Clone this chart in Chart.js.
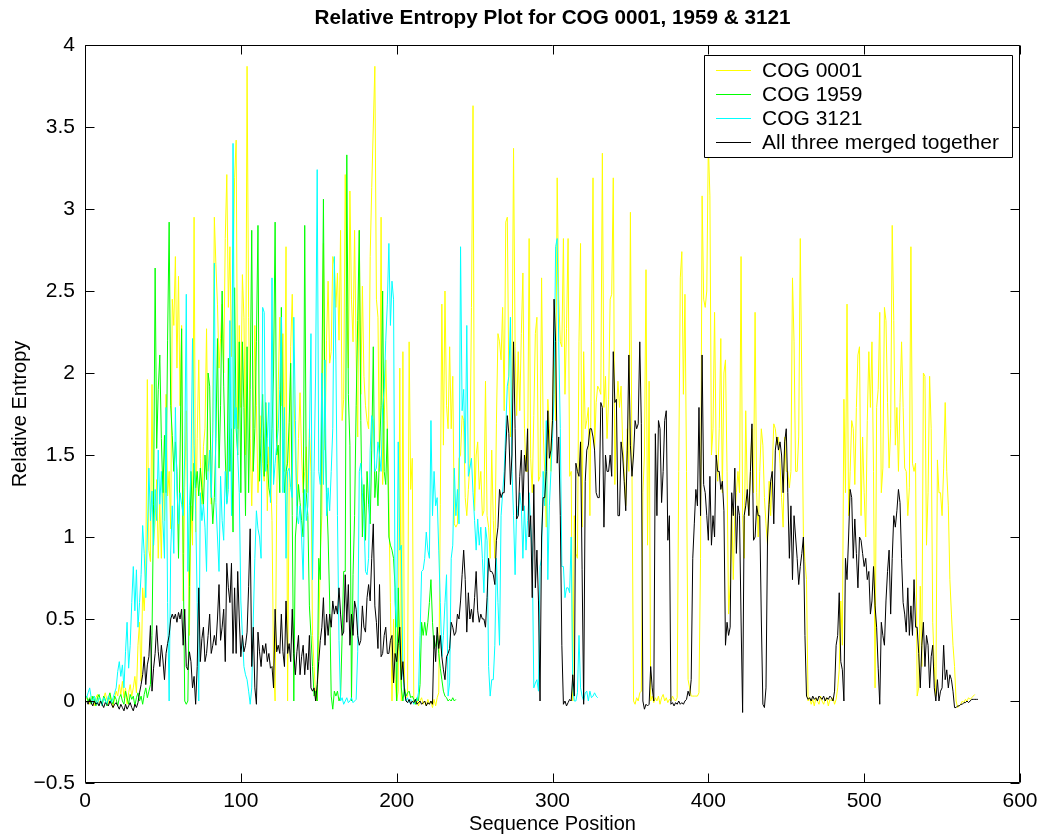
<!DOCTYPE html>
<html><head><meta charset="utf-8">
<script src="https://cdn.jsdelivr.net/npm/chart.js@4.4.1/dist/chart.umd.min.js"></script>
<style>html,body{margin:0;padding:0;background:#fff}#wrap{width:1037px;height:836px}</style>
</head><body><div id="wrap"><canvas id="c" width="1037" height="836"></canvas></div>
<script>
const chartTitle = 'Relative Entropy Plot for COG 0001, 1959 & 3121';
const xAxisLabel = 'Sequence Position';
const yAxisLabel = 'Relative Entropy';
const seriesNames = ['COG 0001', 'COG 1959', 'COG 3121', 'All three merged together'];
const seriesColors = ['#ffff00', '#00ff00', '#00ffff', '#000000'];
const xTicks = [0, 100, 200, 300, 400, 500, 600];
const yTicks = [-0.5, 0, 0.5, 1, 1.5, 2, 2.5, 3, 3.5, 4];

// first sequence position of every series
const cog0001Start = 1, cog1959Start = 1, cog3121Start = 1, mergedStart = 1;

// COG 0001 (positions 1..571)
const cog0001 = [
0.02,0.00,-0.02,0.03,0.01,-0.03,0.02,0.04,-0.01,0.00,
-0.03,0.02,0.05,0.01,-0.02,0.03,0.00,-0.04,0.02,0.06,
0.03,0.10,0.04,0.12,0.02,0.08,-0.02,0.05,0.10,0.03,
0.08,0.15,0.05,0.34,0.48,0.12,0.69,0.55,0.80,1.96,
0.92,0.85,1.93,0.95,1.10,1.35,0.87,
1.20,0.87,1.40,1.10,1.87,1.25,1.40,1.05,2.45,2.29,
2.71,2.03,2.59,1.80,2.29,0.61,1.30,1.77,1.10,0.40,
1.19,0.95,2.95,1.03,1.60,2.08,1.48,1.20,1.55,1.66,
2.27,1.40,1.50,1.20,1.70,2.95,2.66,2.42,2.03,2.21,
2.42,2.00,2.82,3.21,2.40,2.77,2.10,2.60,3.19,
3.42,1.66,2.29,1.79,2.60,2.34,1.50,3.87,2.34,1.60,
1.19,1.66,2.29,1.80,1.27,1.50,1.74,1.45,1.34,1.70,
1.16,1.55,1.40,1.10,0.21,0.00,1.20,1.92,2.34,1.80,
2.24,1.40,2.77,0.00,1.30,2.16,2.48,1.92,1.50,1.19,
1.60,1.88,1.50,1.27,1.40,1.55,1.27,1.66,1.40,
0.40,0.21,0.03,0.00,0.40,0.90,1.13,2.79,1.53,2.20,
2.56,2.06,2.13,2.71,2.66,2.40,2.61,2.20,2.87,1.71,
1.84,3.21,2.40,2.03,3.11,2.45,2.19,2.87,2.11,1.61,
2.87,1.87,2.53,1.98,1.80,1.71,1.66,2.71,3.13,3.50,
3.87,2.45,2.34,1.40,2.95,1.32,1.71,2.08,1.66,
1.21,0.60,0.00,0.50,0.13,0.00,0.06,2.03,0.00,2.13,
0.08,0.02,0.03,2.19,1.29,1.48,0.00,-0.02,0.01,-0.03,
0.00,0.02,-0.02,0.00,-0.03,0.01,-0.02,0.00,-0.04,0.01,
-0.03,0.02,0.05,1.20,2.42,1.56,2.50,1.80,1.66,2.16,
1.66,1.98,1.08,1.06,1.08,1.48,1.50,1.74,
1.71,1.24,1.13,1.29,1.45,2.40,3.63,1.16,1.50,1.58,
1.29,1.40,1.13,1.16,1.95,1.13,1.06,0.87,1.53,1.10,
0.87,1.69,2.24,2.19,2.08,2.40,1.77,2.92,2.95,1.92,
1.61,1.92,3.37,2.16,1.74,2.13,1.77,2.24,2.61,1.66,
1.40,1.40,2.82,1.48,1.27,1.74,2.24,2.34,1.34,
1.37,2.58,1.66,1.40,1.06,1.84,1.66,1.40,1.80,2.19,
1.71,3.19,2.45,2.19,2.16,2.82,1.87,2.27,2.82,1.37,
1.40,0.00,1.13,0.90,0.87,2.19,2.79,1.06,2.13,1.66,
1.71,1.79,1.13,2.19,3.19,1.53,1.82,1.92,1.90,1.87,
3.34,1.79,1.98,1.60,1.84,2.45,2.48,3.19,1.32,
1.77,1.95,1.79,1.92,1.58,1.40,1.19,1.66,1.40,2.98,
1.40,0.00,-0.02,0.02,0.00,0.05,0.06,1.27,1.50,2.63,
0.95,1.95,0.00,0.03,-0.01,0.02,0.00,0.03,-0.02,0.02,
0.04,0.00,0.02,-0.01,0.01,0.00,0.03,0.01,0.00,0.02,
1.40,2.58,2.74,1.87,2.48,1.40,0.13,0.08,0.03,
0.03,0.03,0.03,0.03,0.05,0.87,3.08,2.45,2.40,2.50,
3.40,3.08,1.50,1.66,2.37,1.53,1.34,1.66,2.21,1.27,
2.00,2.08,1.40,0.53,0.71,1.19,0.74,1.13,1.27,1.40,
1.27,2.71,1.13,0.87,1.77,1.27,1.13,1.40,1.66,1.27,
2.37,1.27,1.00,1.40,1.66,1.56,1.24,1.08,
0.95,1.34,1.13,1.40,1.69,1.66,1.56,1.61,1.45,1.24,
1.06,1.61,1.40,1.40,1.30,1.40,2.58,2.19,1.40,1.40,
1.61,2.82,1.92,1.00,0.85,0.74,0.00,0.02,-0.02,0.01,
-0.03,0.02,0.00,-0.02,0.03,0.00,-0.02,0.01,0.02,-0.03,
0.01,0.00,0.02,-0.02,0.01,0.08,0.19,0.61,0.34,
1.84,1.27,2.42,1.13,1.40,1.71,1.66,1.32,1.79,2.11,
2.16,1.13,1.61,1.27,1.00,1.71,2.13,1.79,2.19,1.40,
0.08,1.79,1.90,2.37,1.27,1.42,2.40,2.32,1.82,1.42,
1.66,2.90,2.32,1.56,1.79,1.40,1.82,2.19,1.79,1.42,
1.40,1.13,1.30,2.77,1.45,1.40,1.45,0.03,0.08,
0.70,0.21,2.00,1.98,0.95,1.27,1.98,1.66,0.48,0.21,
0.03,1.47,1.27,1.27,1.13,1.42,1.82,1.40,1.19,0.74,
0.53,0.34,0.21,0.00,-0.04,-0.03,-0.02,0.00,-0.01,0.01,
0.00,0.02,0.01,0.02,0.03,0.04
];

// COG 1959 (positions 1..238)
const cog1959 = [
0.03,0.00,0.02,-0.02,0.03,0.01,-0.03,0.02,0.04,0.00,
-0.02,0.03,0.01,-0.03,0.02,0.05,0.00,-0.02,0.03,0.01,
-0.03,0.02,0.04,0.00,-0.02,0.06,0.02,-0.02,0.04,0.01,
0.03,-0.03,0.02,0.05,0.00,0.03,-0.02,0.04,0.08,0.02,
0.06,0.10,0.40,1.20,2.64,1.54,1.90,
2.11,1.60,1.27,1.62,1.27,2.20,2.92,1.80,1.62,1.40,
1.58,1.40,0.87,1.50,2.27,0.90,0.00,-0.02,0.00,0.70,
1.40,1.10,1.45,1.30,1.40,1.25,1.42,1.30,1.19,1.50,
1.35,2.00,1.92,1.30,1.08,1.24,1.60,2.21,1.42,1.80,
2.50,1.92,1.50,1.21,2.09,1.40,1.66,1.03,2.52,
1.66,1.50,2.19,1.27,2.19,1.79,1.13,2.16,1.27,1.90,
2.87,1.40,1.66,2.19,2.90,1.34,1.60,1.87,1.37,1.82,
1.45,1.30,1.24,1.66,2.00,2.92,1.50,1.56,1.27,2.40,
1.60,1.27,1.40,1.45,1.70,2.06,1.13,0.00,1.00,1.13,
1.32,1.21,1.10,1.00,2.90,1.27,1.13,0.58,0.40,
0.21,0.03,0.06,0.00,0.87,0.74,1.90,3.06,1.66,1.27,
1.00,0.61,0.03,-0.05,0.06,0.03,0.06,0.00,0.03,0.40,
0.79,0.79,3.33,1.87,1.56,0.00,0.77,1.13,1.80,2.32,
2.87,1.71,1.00,1.32,0.98,1.40,1.20,1.08,1.53,2.16,
1.24,1.40,1.19,1.53,1.80,2.50,1.40,1.32,1.66,
1.00,0.95,0.92,0.87,0.69,0.00,0.69,0.34,0.08,0.00,
0.08,0.03,0.05,0.06,0.02,0.03,0.01,-0.02,0.02,0.00,
0.10,0.48,0.40,0.48,0.40,0.48,0.60,0.74,0.48,0.32,
0.34,0.40,0.29,0.20,0.13,0.06,0.03,0.02,0.00,0.01,
0.00,0.02,0.00,0.01
];

// COG 3121 (positions 1..329)
const cog3121 = [
0.02,0.05,0.08,0.02,-0.01,0.03,0.00,-0.02,0.02,0.01,
-0.03,0.02,0.00,-0.02,0.03,0.01,-0.01,0.02,0.05,0.08,
0.18,0.24,0.15,0.22,0.08,0.30,0.48,0.20,0.34,0.60,
0.82,0.55,0.80,0.45,0.60,0.77,1.07,0.90,0.63,1.00,
1.42,1.10,1.28,0.95,1.29,1.10,1.53,
1.20,1.40,1.10,0.87,1.79,0.60,0.00,0.92,1.19,0.90,
1.79,1.30,1.08,1.27,1.20,1.13,1.50,2.48,0.79,1.19,
1.40,2.21,1.56,1.16,0.60,0.00,1.27,1.10,1.20,1.06,
0.79,1.40,1.53,1.24,1.63,2.67,1.21,1.00,0.79,1.37,
1.10,0.98,1.40,1.20,1.29,2.32,1.13,3.40,1.66,
1.79,1.50,1.27,0.61,0.40,0.21,0.16,0.13,0.06,-0.02,
0.08,0.50,0.87,1.16,1.05,1.00,0.87,2.40,2.37,1.40,
1.60,1.82,1.21,2.58,1.32,1.45,1.56,1.66,1.90,2.34,
1.27,1.79,0.87,1.40,1.42,1.30,1.24,2.34,1.71,1.13,
1.08,1.19,1.00,0.74,1.29,1.10,1.19,1.60,2.24,
0.74,1.40,2.00,3.24,1.40,1.32,2.00,1.32,2.08,1.13,
1.30,1.16,1.40,1.66,2.71,2.08,1.13,0.37,0.00,0.02,
-0.02,0.00,0.02,-0.01,0.00,0.02,-0.01,0.00,0.01,0.30,
1.40,1.45,1.27,1.13,0.79,0.77,0.87,1.53,1.74,1.71,
1.40,1.42,1.58,1.50,1.40,1.79,1.90,2.20,2.42,
2.79,2.29,2.56,2.45,0.61,0.45,1.58,0.92,0.95,0.16,
0.06,0.00,0.02,-0.01,0.01,0.00,-0.02,0.01,0.00,0.05,
0.40,0.79,0.80,0.87,1.03,0.92,0.87,1.71,1.13,1.40,
1.19,1.24,0.92,0.60,0.27,0.40,0.60,0.77,0.03,0.11,
0.87,0.95,1.42,1.13,1.29,1.08,2.77,1.77,
1.90,1.45,2.29,1.37,1.42,1.48,1.27,1.10,0.92,1.11,
0.95,1.06,0.87,0.66,1.06,0.98,0.21,0.03,0.13,0.13,
0.34,0.87,0.60,0.34,1.13,1.27,1.40,1.66,1.92,1.98,
2.34,1.40,1.13,0.77,1.19,1.13,1.27,1.19,0.87,1.19,
0.92,1.10,1.27,1.06,0.92,0.08,0.11,0.13,0.06,
0.82,0.87,1.40,1.19,1.71,0.74,1.19,1.40,1.60,1.87,
2.77,2.82,2.19,1.66,0.82,0.82,0.63,0.69,0.69,0.66,
1.00,0.08,0.00,0.00,0.05,0.40,0.08,0.03,0.00,0.05,
0.06,0.00,0.06,0.02,0.03,0.05,0.03,0.02
];

// All three merged together (positions 1..573)
const merged = [
0.00,-0.02,0.01,-0.01,-0.03,0.00,-0.02,-0.01,-0.03,0.00,
-0.02,-0.04,-0.01,-0.02,-0.03,0.00,-0.02,-0.04,-0.02,-0.01,
-0.03,-0.05,-0.02,-0.04,-0.06,-0.02,-0.05,-0.03,-0.01,-0.04,
-0.06,-0.02,-0.04,-0.01,0.05,0.10,0.16,0.27,0.10,0.22,
0.27,0.46,0.06,0.20,0.29,0.46,0.30,
0.21,0.34,0.25,0.13,0.29,0.35,0.40,0.50,0.53,0.50,
0.53,0.48,0.54,0.50,0.56,0.34,0.56,0.21,0.19,0.30,
0.24,0.08,0.15,-0.02,0.21,0.69,0.24,0.38,0.45,0.24,
0.29,0.40,0.53,0.29,0.34,0.40,0.34,0.50,0.71,0.37,
0.45,0.56,0.24,0.84,0.69,0.60,0.84,0.29,0.69,
0.29,0.79,0.50,0.27,0.40,0.30,0.34,0.42,0.70,1.05,
0.21,0.45,0.08,-0.02,0.42,0.30,0.21,0.34,0.29,0.35,
0.24,0.29,0.20,0.21,0.08,0.56,0.30,0.34,0.29,0.53,
0.30,0.21,0.61,0.29,0.35,0.24,0.56,0.29,0.16,0.30,
0.40,0.16,0.27,0.34,0.16,0.29,0.19,0.40,0.08,
0.06,0.08,0.00,0.10,0.24,0.37,0.45,0.63,0.34,0.53,
0.40,0.53,0.45,0.61,0.53,0.58,0.53,0.69,0.53,0.40,
0.42,0.77,0.48,0.71,0.34,0.53,0.40,0.61,0.56,0.40,
0.34,0.37,0.58,0.45,0.42,0.63,0.71,0.61,0.87,1.08,
0.58,0.48,0.32,0.71,0.27,0.29,0.40,0.45,0.29,
0.29,0.37,0.40,0.11,0.29,0.24,0.35,0.45,0.13,0.24,
0.06,0.00,-0.01,0.01,-0.02,0.00,-0.01,0.01,-0.02,-0.01,
0.00,-0.02,-0.01,0.00,-0.03,-0.01,-0.02,0.00,-0.02,0.40,
0.24,0.45,0.32,0.40,0.27,0.19,0.13,0.27,0.29,0.32,
0.48,0.45,0.40,0.42,0.53,0.50,0.61,0.77,
0.92,0.74,0.42,0.66,0.50,0.56,0.48,0.63,0.79,0.55,
0.48,0.53,0.50,0.50,0.45,0.63,0.87,0.79,0.79,0.77,
0.71,0.98,1.06,1.29,1.24,1.27,1.27,1.53,1.74,1.63,
1.32,1.50,2.19,1.66,1.11,1.13,1.37,1.53,1.16,1.50,
1.40,1.66,1.00,1.13,0.63,1.32,0.69,0.92,0.61,
0.00,1.00,1.24,1.24,1.40,1.77,1.48,1.53,1.71,2.45,
2.19,1.45,1.61,1.13,0.34,-0.02,0.00,-0.03,-0.01,0.01,
0.00,0.16,0.03,1.45,1.40,1.37,1.58,0.80,-0.02,1.34,
1.53,1.56,1.66,1.66,1.61,1.53,1.27,1.24,1.24,1.82,
1.79,1.06,1.50,1.40,1.40,1.50,1.37,2.13,1.82,
1.84,1.13,1.13,1.58,1.50,1.34,1.16,1.53,2.11,1.56,
1.37,1.50,1.71,1.66,1.69,2.19,1.69,0.00,-0.05,-0.02,
-0.03,-0.02,0.21,0.08,0.00,1.63,1.13,1.71,1.66,1.21,
1.40,1.71,1.77,0.98,1.13,-0.02,-0.01,-0.03,-0.01,-0.02,
0.00,-0.02,-0.01,-0.02,0.00,0.01,0.06,0.03,0.13,
0.87,1.08,1.29,1.19,1.79,1.13,2.11,1.32,1.27,1.13,
0.98,1.37,0.95,1.13,1.00,1.50,1.40,1.40,1.29,1.34,
1.16,0.34,0.48,0.40,0.45,1.27,1.13,1.42,0.90,1.19,
1.13,0.50,-0.07,1.13,1.19,1.29,1.13,1.40,1.69,0.98,
1.00,1.19,1.13,1.13,0.50,-0.02,-0.04,0.08,
1.00,1.20,1.34,1.40,1.08,1.53,1.61,1.53,1.58,1.50,
1.27,1.58,1.66,1.27,0.87,1.19,0.74,1.13,1.00,0.87,
0.71,0.82,0.90,1.00,0.40,0.03,0.01,0.02,0.00,0.03,
0.01,0.02,0.00,0.03,0.02,0.01,0.03,0.00,0.02,0.01,
0.03,0.02,0.00,0.06,0.34,0.40,0.66,0.24,0.19,
0.00,0.87,0.74,1.00,1.29,1.24,0.87,1.11,0.90,0.69,
1.00,0.98,0.90,0.82,0.87,0.74,0.79,0.53,0.61,0.82,
0.58,0.45,0.20,-0.02,0.48,0.40,0.34,0.61,0.79,0.92,
0.53,0.87,1.13,1.06,1.16,1.29,1.21,0.87,0.60,0.53,
0.42,0.69,0.40,0.58,0.40,0.74,0.45,0.45,0.29,
0.08,0.34,0.48,0.21,0.40,0.34,0.08,0.27,0.34,0.08,
0.00,0.13,0.00,0.06,0.08,0.34,0.13,0.19,0.08,0.16,
0.13,0.06,-0.04,-0.04,-0.03,-0.03,-0.02,-0.02,-0.01,-0.01,
0.00,-0.01,0.00,0.01,0.01,0.01,0.01,0.01
];

const FONT = "'Liberation Sans', Arial, Helvetica, sans-serif";
const toPoints = (start, arr) => arr.map((v, i) => ({ x: start + i, y: v }));
const seriesData = [
  toPoints(cog0001Start, cog0001),
  toPoints(cog1959Start, cog1959),
  toPoints(cog3121Start, cog3121),
  toPoints(mergedStart, merged)
];

const frameAndLegend = {
  id: 'frameAndLegend',
  afterDraw(chart) {
    const { ctx, chartArea: a, scales: { x, y } } = chart;
    const L = 9;
    ctx.save();
    // title centred over the axes
    ctx.fillStyle = '#000';
    ctx.font = 'bold 20.7px ' + FONT;
    ctx.textAlign = 'center';
    ctx.textBaseline = 'middle';
    ctx.fillText(chartTitle, (a.left + a.right) / 2, 18);

    ctx.strokeStyle = '#000';
    ctx.lineWidth = 1;
    ctx.beginPath();
    const l = Math.round(a.left) + 0.5, r = Math.round(a.right) - 0.5;
    const t = Math.round(a.top) + 0.5, b = Math.round(a.bottom) - 0.5;
    ctx.rect(l, t, r - l, b - t);
    xTicks.forEach(v => {
      const px = Math.round(x.getPixelForValue(v)) + 0.5;
      ctx.moveTo(px, b); ctx.lineTo(px, b - L);
      ctx.moveTo(px, t); ctx.lineTo(px, t + L);
    });
    yTicks.forEach(v => {
      const py = Math.round(y.getPixelForValue(v)) + 0.5;
      ctx.moveTo(l, py); ctx.lineTo(l + L, py);
      ctx.moveTo(r, py); ctx.lineTo(r - L, py);
    });
    ctx.stroke();

    // legend box (top right, inside axes)
    ctx.font = '21px ' + FONT;
    const textW = Math.max(...seriesNames.map(s => ctx.measureText(s).width));
    const boxW = Math.round(58 + textW + 13);
    const boxR = Math.round(a.right) - 8;
    const boxL = boxR - boxW;
    const boxT = Math.round(a.top) + 10;
    const rowH = 24;
    const boxH = rowH * seriesNames.length + 6;
    ctx.fillStyle = '#fff';
    ctx.fillRect(boxL, boxT, boxW, boxH);
    ctx.beginPath();
    ctx.rect(boxL + 0.5, boxT + 0.5, boxW, boxH);
    ctx.strokeStyle = '#000';
    ctx.stroke();
    ctx.textBaseline = 'middle';
    ctx.textAlign = 'left';
    seriesNames.forEach((name, i) => {
      const cy = boxT + 15 + i * rowH + 0.5;
      ctx.beginPath();
      ctx.strokeStyle = seriesColors[i];
      ctx.moveTo(boxL + 12, cy);
      ctx.lineTo(boxL + 47, cy);
      ctx.stroke();
      ctx.fillStyle = '#000';
      ctx.fillText(name, boxL + 58, cy + 1);
    });
    ctx.restore();
  }
};

new Chart(document.getElementById('c'), {
  type: 'line',
  data: {
    datasets: seriesNames.map((name, i) => ({
      label: name,
      data: seriesData[i],
      borderColor: seriesColors[i],
      backgroundColor: seriesColors[i],
      borderWidth: 1,
      pointRadius: 0,
      tension: 0,
      fill: false,
      order: 4 - i
    }))
  },
  options: {
    responsive: false,
    animation: false,
    devicePixelRatio: 1,
    layout: { padding: { left: 0, right: 0, top: 45, bottom: 0 } },
    plugins: {
      legend: { display: false },
      tooltip: { enabled: false },
      title: { display: false }
    },
    scales: {
      x: {
        type: 'linear',
        min: 0, max: 600,
        afterFit: s => { s.height = 53; s.paddingRight = 17; s.paddingLeft = 0; },
        afterBuildTicks: s => { s.ticks = xTicks.map(v => ({ value: v })); },
        grid: { display: false, drawTicks: false },
        border: { display: false },
        ticks: { color: '#000', padding: 6, maxRotation: 0, font: { family: FONT, size: 21 } },
        title: { display: true, text: xAxisLabel, color: '#000', padding: { top: 0, bottom: 0 }, font: { family: FONT, size: 20 } }
      },
      y: {
        type: 'linear',
        min: -0.5, max: 4,
        afterFit: s => { s.width = 85; },
        afterBuildTicks: s => { s.ticks = yTicks.map(v => ({ value: v })); },
        grid: { display: false, drawTicks: false },
        border: { display: false },
        ticks: {
          color: '#000', padding: 10, font: { family: FONT, size: 21 },
          callback: v => (v < 0 ? '\u2212' + Math.abs(v) : String(v))
        },
        title: { display: true, text: yAxisLabel, color: '#000', padding: { top: 8, bottom: 0 }, font: { family: FONT, size: 20 } }
      }
    }
  },
  plugins: [frameAndLegend]
});
</script>
</body></html>
